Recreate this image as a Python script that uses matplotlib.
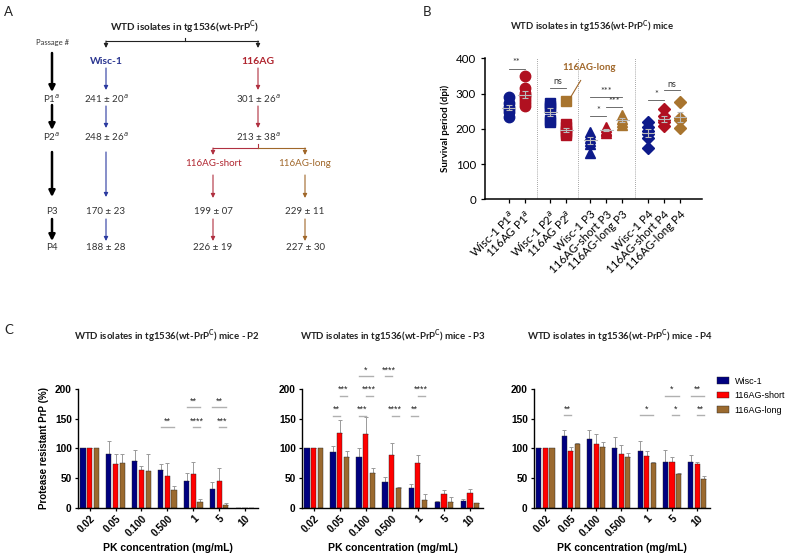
import matplotlib
matplotlib.use("Agg")
import matplotlib.pyplot as plt
import numpy as np
from matplotlib.patches import Patch

plt.rcParams['font.family'] = ['Lato', 'DejaVu Sans']
plt.rcParams['mathtext.fontset'] = 'custom'
plt.rcParams['mathtext.rm'] = 'Lato'
plt.rcParams['mathtext.bf'] = 'Lato:bold'

W, H = 800, 553

# ---- panel A data (mean +/- sd survival, dpi)
passages = ["P1$^a$", "P2$^a$", "P3", "P4"]
wisc_mean = [241, 248, 170, 188]
wisc_sd = [20, 26, 23, 28]
ag_mean = [301, 213]
ag_sd = [26, 38]
short_mean = [199, 226]
short_sd = [7, 19]
long_mean = [229, 227]
long_sd = [11, 30]

# ---- panel B data (survival period of individual mice)
b_labels = ["Wisc-1 P1$^a$", "116AG P1$^a$", "Wisc-1 P2$^a$", "116AG P2$^a$",
            "Wisc-1 P3", "116AG-short P3", "116AG-long P3",
            "Wisc-1 P4", "116AG-short P4", "116AG-long P4"]
wisc_p1 = [290, 272, 262, 255, 248, 233]
ag_p1 = [350, 315, 302, 295, 290, 282, 272, 265]
wisc_p2 = [272, 265, 258, 225, 220]
ag_p2 = [215, 205, 195, 188, 182]
long_p2 = [280]
wisc_p3 = [192, 182, 175, 165, 158, 130]
short_p3 = [205, 198, 193, 188]
long_p3 = [238, 228, 220, 212]
wisc_p4 = [220, 205, 195, 185, 175, 145]
short_p4 = [255, 235, 225, 220, 208]
long_p4 = [275, 232, 225, 202]

# ---- panel C data (protease resistant PrP, %)
pk_labels = ["0.02", "0.05", "0.100", "0.500", "1", "5", "10"]
series = ["Wisc-1", "116AG-short", "116AG-long"]
p2_vals = [[100, 91, 79, 63, 44, 32, 0],
           [100, 73, 63, 54, 57, 45, 0],
           [100, 75, 62, 30, 10, 4, 0]]
p2_err = [[0, 22, 19, 10, 14, 11, 0],
          [0, 17, 8, 22, 20, 21, 0],
          [0, 15, 28, 6, 4, 4, 0]]
p3_vals = [[100, 94, 86, 43, 33, 9, 11],
           [100, 126, 125, 88, 75, 23, 24],
           [100, 85, 59, 33, 12, 10, 7]]
p3_err = [[0, 10, 14, 8, 7, 2, 4],
          [0, 22, 28, 21, 13, 6, 8],
          [0, 10, 8, 2, 10, 7, 1]]
p4_vals = [[100, 121, 116, 100, 95, 77, 77],
           [100, 96, 107, 90, 87, 77, 74],
           [100, 107, 102, 85, 75, 56, 48]]
p4_err = [[0, 10, 15, 20, 17, 20, 12],
          [0, 7, 18, 15, 8, 8, 3],
          [0, 2, 8, 7, 2, 3, 5]]
# significance: (group, bar from, bar to, level, stars)
p2_sig = [(3, 0, 2, 136, '**'), (4, 0, 2, 170, '**'), (4, 1, 2, 136, '****'),
          (5, 0, 2, 170, '**'), (5, 1, 2, 136, '***')]
p3_sig = [(1, 0, 1, 155, '**'), (1, 1, 2, 189, '***'), (2, 0, 1, 155, '***'),
          (2, 1, 2, 189, '****'), (2, 0, 2, 222, '*'), (3, 0, 1, 222, '****'),
          (3, 1, 2, 155, '****'), (4, 0, 1, 155, '**'), (4, 1, 2, 189, '****')]
p4_sig = [(1, 0, 1, 156, '**'), (4, 0, 2, 156, '*'), (5, 0, 2, 189, '*'),
          (5, 1, 2, 156, '*'), (6, 0, 2, 189, '**'), (6, 1, 2, 156, '**')]

BLUE_T, RED_T, BROWN_T = '#2a3590', '#b0252f', '#a0672a'
B_BLUE, B_RED, B_BROWN = '#0d1a8a', '#b01020', '#a8742e'
C_COL = ['#000080', '#ff0000', '#9b6a2f']


def rect(x0, y0, x1, y1):
    return [x0 / W, 1 - y1 / H, (x1 - x0) / W, (y1 - y0) / H]


fig = plt.figure(figsize=(8, 5.53), dpi=100)

# ---------------- panel A (drawn in pixel coordinates)
ax = fig.add_axes([0, 0, 1, 1], zorder=0)
ax.set_xlim(0, W)
ax.set_ylim(H, 0)
ax.axis('off')


def arrow(x, y0, y1, c, lw=0.8, ms=6):
    ax.annotate('', xy=(x, y1), xytext=(x, y0),
                arrowprops=dict(arrowstyle='-|>', color=c, lw=lw, mutation_scale=ms,
                                shrinkA=0, shrinkB=0))


for s, (x, y) in zip("ABC", [(4, 12), (423, 12), (4, 330)]):
    ax.text(x, y, s, fontsize=9.5, va='center', ha='left', color='#222222')

ax.text(185, 27, r"WTD isolates in tg1536(wt-PrP$^\mathbf{C}$)", fontsize=7.2,
        fontweight='bold', ha='center', va='center', color='#222222')
ax.plot([106, 258], [41, 41], color='#222222', lw=0.8)
ax.plot([185, 185], [38, 41], color='#222222', lw=0.8)
arrow(106, 41, 48, '#222222')
arrow(258, 41, 48, '#222222')
ax.text(52, 42, "Passage #", fontsize=5.5, ha='center', va='center', color='#333333')

ax.text(106, 61, "Wisc-1", fontsize=7.5, fontweight='bold', color=BLUE_T, ha='center', va='center')
ax.text(258, 61, "116AG", fontsize=7.5, fontweight='bold', color=RED_T, ha='center', va='center')

row_y = [99, 137, 211, 248]
for lab, y in zip(passages, row_y):
    ax.text(52, y, lab, fontsize=7, ha='center', va='center', color='#333333')
for i, y in enumerate(row_y):
    sup = "$^a$" if i < 2 else ""
    ax.text(106, y, f"{wisc_mean[i]} ± {wisc_sd[i]:02d}{sup}", fontsize=7,
            ha='center', va='center', color='#333333')
for i in range(2):
    ax.text(258, row_y[i], f"{ag_mean[i]} ± {ag_sd[i]:02d}$^a$", fontsize=7,
            ha='center', va='center', color='#333333')
    ax.text(213, row_y[i + 2], f"{short_mean[i]} ± {short_sd[i]:02d}", fontsize=7,
            ha='center', va='center', color='#333333')
    ax.text(305, row_y[i + 2], f"{long_mean[i]} ± {long_sd[i]:02d}", fontsize=7,
            ha='center', va='center', color='#333333')

# left black passage arrows
for y0, y1 in [(53, 92), (105, 130), (152, 197), (219, 241)]:
    arrow(52, y0, y1, 'black', lw=1.8, ms=9)
# coloured lineage arrows
for y0, y1 in [(68, 90), (106, 128), (152, 197), (219, 241)]:
    arrow(106, y0, y1, '#2b3aa0')
for y0, y1 in [(68, 90), (106, 128)]:
    arrow(258, y0, y1, '#b03040')
ax.plot([258, 258], [144, 148], color='#b03040', lw=0.8)
ax.plot([213, 258], [148, 148], color='#b03040', lw=0.8)
ax.plot([258, 305], [148, 148], color='#a0672a', lw=0.8)
arrow(213, 148, 155, '#b03040')
arrow(305, 148, 155, '#a0672a')
ax.text(213, 163, "116AG-short", fontsize=7, color=RED_T, ha='center', va='center')
ax.text(305, 163, "116AG-long", fontsize=7, color=BROWN_T, ha='center', va='center')
for y0, y1 in [(175, 198), (219, 241)]:
    arrow(213, y0, y1, '#b03040')
    arrow(305, y0, y1, '#a0672a')

# ---------------- panel B
ax.text(592, 27, r"WTD isolates in tg1536(wt-PrP$^\mathbf{C}$) mice", fontsize=6.8,
        fontweight='bold', ha='center', va='center', color='#222222')
axb = fig.add_axes(rect(485, 58.3, 702, 199.3), zorder=2)
axb.patch.set_alpha(0)
bx = [0, 1, 2.6, 3.6, 5.1, 6.1, 7.1, 8.7, 9.7, 10.7]
b_groups = [wisc_p1, ag_p1, wisc_p2, ag_p2, wisc_p3, short_p3, long_p3, wisc_p4, short_p4, long_p4]
b_cols = [B_BLUE, B_RED, B_BLUE, B_RED, B_BLUE, B_RED, B_BROWN, B_BLUE, B_RED, B_BROWN]
b_mk = ['o', 'o', 's', 's', '^', '^', '^', 'D', 'D', 'D']
for x, vals, c, m in zip(bx, b_groups, b_cols, b_mk):
    v = np.array(vals, dtype=float)
    axb.plot([x] * len(v), v, m, color=c, ms=7.5 if m != 'D' else 6.5, mec=c, zorder=3)
    mean = v.mean()
    sem = v.std(ddof=1) / np.sqrt(len(v))
    axb.plot([x - 0.4, x + 0.4], [mean, mean], color='#bbbbbb', lw=0.8, zorder=4)
    axb.errorbar(x, mean, yerr=sem, color='#bbbbbb', lw=0.8, capsize=2.5, capthick=0.8, zorder=4)
axb.plot([bx[3]], long_p2, 's', color=B_BROWN, ms=7, zorder=3)
for sx in [1.8, 4.35, 7.9]:
    axb.axvline(sx, color='#888888', lw=0.6, ls=(0, (1, 1.5)))
b_sig = [(0, 1, 371, '**'), (2, 3, 317, 'ns'), (4, 6, 290, '***'), (5, 6, 262, '***'),
         (4, 5, 235, '*'), (7, 8, 281, '*'), (8, 9, 310, 'ns')]
for i, j, lev, t in b_sig:
    axb.plot([bx[i], bx[j]], [lev, lev], color='#555555', lw=0.6)
    axb.text((bx[i] + bx[j]) / 2, lev + 3, t, fontsize=6.5, ha='center', va='bottom', color='#333333')
axb.annotate("116AG-long", xy=(bx[3] + 0.25, 288), xytext=(5.0, 375), fontsize=7,
             fontweight='bold', color=BROWN_T, ha='center', va='center',
             arrowprops=dict(arrowstyle='-', color=BROWN_T, lw=0.8, shrinkA=5, shrinkB=0))
axb.set_xlim(-1.48, 12.08)
axb.set_ylim(0, 400)
axb.set_yticks([0, 100, 200, 300, 400])
axb.set_xticks(bx)
axb.set_xticklabels(b_labels, rotation=45, ha='right', rotation_mode='anchor', fontsize=8.3)
axb.tick_params(axis='y', labelsize=8.3, length=3, width=0.9)
axb.tick_params(axis='x', length=3, width=0.9)
axb.set_ylabel("Survival period (dpi)", fontsize=7, fontweight='bold')
for sp in ['top', 'right']:
    axb.spines[sp].set_visible(False)
for sp in ['left', 'bottom']:
    axb.spines[sp].set_linewidth(1.1)

# ---------------- panel C
c_axes = [(78, 258, 167, "P2", p2_vals, p2_err, p2_sig),
          (302, 483, 393, "P3", p3_vals, p3_err, p3_sig),
          (534, 710, 620, "P4", p4_vals, p4_err, p4_sig)]
gx = np.arange(len(pk_labels))
offs = [-0.26, 0, 0.26]
for k, (x0, x1, tx, ptag, vals, errs, sigs) in enumerate(c_axes):
    ax.text(tx, 336, r"WTD isolates in tg1536(wt-PrP$^\mathbf{C}$) mice - " + ptag,
            fontsize=6.9, fontweight='bold', ha='center', va='center', color='#222222')
    axc = fig.add_axes(rect(x0, 389.3, x1, 507.5), zorder=2)
    axc.patch.set_alpha(0)
    for s in range(3):
        axc.bar(gx + offs[s], vals[s], width=0.2, color=C_COL[s], edgecolor='#222222',
                linewidth=0.3, label=series[s], zorder=2)
        axc.errorbar(gx + offs[s], vals[s], yerr=[np.zeros(len(gx)), errs[s]], fmt='none',
                     ecolor='#9a9a9a', elinewidth=0.7, capsize=1.2, capthick=0.7, zorder=1)
    for g, a, b, lev, t in sigs:
        xa, xb = g + offs[a], g + offs[b]
        axc.plot([xa, xb], [lev, lev], color='#b0b0b0', lw=1.0, clip_on=False)
        axc.text((xa + xb) / 2, lev + 3, t, fontsize=6.5, ha='center', va='bottom',
                 color='#222222', fontfamily='Liberation Sans', clip_on=False)
    axc.set_xlim(-0.45, 6.5)
    axc.set_ylim(0, 200)
    axc.set_yticks([0, 50, 100, 150, 200])
    axc.set_xticks(gx)
    axc.set_xticklabels(pk_labels, rotation=45, ha='right', rotation_mode='anchor')
    for lab in axc.get_xticklabels() + axc.get_yticklabels():
        lab.set_fontfamily('Liberation Sans')
        lab.set_fontweight('bold')
        lab.set_fontsize(7.3)
    axc.tick_params(length=2.5, width=0.9, pad=2)
    axc.set_xlabel("PK concentration (mg/mL)", fontsize=7.5, fontweight='bold',
                   fontfamily='Liberation Sans', labelpad=3)
    if k == 0:
        axc.set_ylabel("Protease resistant PrP (%)", fontsize=7, fontweight='bold',
                       fontfamily='Liberation Sans')
    for sp in ['top', 'right']:
        axc.spines[sp].set_visible(False)
    for sp in ['left', 'bottom']:
        axc.spines[sp].set_linewidth(1.0)

handles = [Patch(facecolor=C_COL[s], edgecolor='#222222', linewidth=0.3, label=series[s])
           for s in range(3)]
fig.legend(handles=handles, loc='upper left', bbox_to_anchor=(714 / W, 1 - 374 / H),
           frameon=False, prop={'family': 'Liberation Sans', 'size': 6.5},
           handlelength=1.4, handleheight=0.8, labelspacing=0.6, handletextpad=0.6,
           borderaxespad=0, borderpad=0.3)

fig.savefig("out.png", dpi=100)
